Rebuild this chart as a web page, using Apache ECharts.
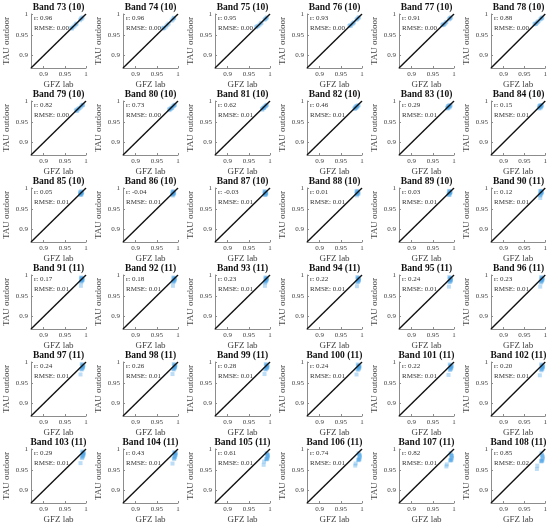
<!DOCTYPE html>
<html><head><meta charset="utf-8">
<script src="https://cdn.jsdelivr.net/npm/echarts@6/dist/echarts.min.js"></script>
<style>html,body{margin:0;padding:0;background:#fff}#c{width:550px;height:528px}</style>
</head><body><div id="c"></div>
<script>
const bands = [73,74,75,76,77,78,79,80,81,82,83,84,85,86,87,88,89,90,91,92,93,94,95,96,97,98,99,100,101,102,103,104,105,106,107,108];
const counts = [10,10,10,10,10,10,10,10,10,10,10,10,10,10,10,10,10,11,11,11,11,11,11,11,11,11,11,11,11,11,11,11,11,11,11,11];
const rValues = ['0.96','0.96','0.95','0.93','0.91','0.88','0.82','0.73','0.62','0.46','0.29','0.15','0.05','-0.04','-0.03','0.01','0.03','0.12','0.17','0.18','0.23','0.22','0.24','0.23','0.24','0.26','0.28','0.24','0.22','0.20','0.29','0.43','0.61','0.74','0.82','0.85'];
const rmseValues = ['0.00','0.00','0.00','0.00','0.00','0.00','0.00','0.00','0.01','0.01','0.01','0.01','0.01','0.01','0.01','0.01','0.01','0.01','0.01','0.01','0.01','0.01','0.01','0.01','0.01','0.01','0.01','0.01','0.01','0.01','0.01','0.01','0.01','0.01','0.01','0.02'];
const tickValues = [0.9, 0.95, 1];
const axisMin = 0.87, axisMax = 1;
const identityLine = [[0.87,0.87],[1,1]];
// GFZ lab (x) per band
const labX = [
 [0.965,0.967,0.970,0.973,0.976,0.978,0.986,0.988,0.990,0.992],
 [0.964,0.966,0.968,0.972,0.975,0.978,0.985,0.988,0.990,0.991],
 [0.967,0.969,0.972,0.975,0.978,0.980,0.987,0.989,0.991,0.993],
 [0.970,0.972,0.974,0.977,0.979,0.981,0.987,0.989,0.991,0.993],
 [0.972,0.974,0.976,0.978,0.980,0.982,0.988,0.990,0.991,0.993],
 [0.974,0.976,0.978,0.980,0.982,0.984,0.988,0.990,0.992,0.993],
 [0.976,0.978,0.979,0.981,0.983,0.985,0.988,0.990,0.992,0.993],
 [0.979,0.980,0.982,0.983,0.985,0.986,0.988,0.990,0.991,0.993],
 [0.981,0.982,0.984,0.985,0.986,0.987,0.989,0.990,0.991,0.993],
 [0.982,0.983,0.984,0.985,0.986,0.987,0.988,0.989,0.990,0.992],
 [0.984,0.985,0.985,0.986,0.987,0.988,0.989,0.990,0.991,0.992],
 [0.985,0.986,0.986,0.987,0.988,0.989,0.989,0.990,0.991,0.992],
 [0.986,0.986,0.987,0.987,0.988,0.988,0.989,0.990,0.990,0.991],
 [0.986,0.987,0.987,0.988,0.988,0.989,0.989,0.990,0.990,0.991],
 [0.987,0.987,0.988,0.988,0.989,0.989,0.990,0.990,0.991,0.991],
 [0.987,0.987,0.988,0.988,0.989,0.989,0.990,0.990,0.991,0.992],
 [0.987,0.988,0.988,0.989,0.989,0.990,0.990,0.991,0.991,0.992],
 [0.987,0.988,0.988,0.989,0.989,0.990,0.990,0.991,0.991,0.992,0.988],
 [0.988,0.988,0.989,0.989,0.990,0.990,0.991,0.991,0.992,0.992,0.988],
 [0.988,0.989,0.989,0.990,0.990,0.991,0.991,0.992,0.992,0.993,0.988],
 [0.988,0.989,0.989,0.990,0.990,0.991,0.991,0.992,0.992,0.993,0.988],
 [0.989,0.989,0.990,0.990,0.991,0.991,0.992,0.992,0.993,0.993,0.988],
 [0.989,0.989,0.990,0.990,0.991,0.991,0.992,0.992,0.993,0.993,0.988],
 [0.989,0.990,0.990,0.991,0.991,0.992,0.992,0.993,0.993,0.994,0.988],
 [0.989,0.990,0.990,0.991,0.991,0.992,0.992,0.993,0.993,0.994,0.987],
 [0.989,0.990,0.990,0.991,0.991,0.992,0.992,0.993,0.993,0.994,0.987],
 [0.989,0.990,0.990,0.991,0.992,0.992,0.993,0.993,0.994,0.994,0.987],
 [0.989,0.990,0.991,0.991,0.992,0.992,0.993,0.993,0.994,0.994,0.987],
 [0.990,0.990,0.991,0.991,0.992,0.992,0.993,0.993,0.994,0.995,0.987],
 [0.990,0.990,0.991,0.992,0.992,0.993,0.993,0.994,0.994,0.995,0.987],
 [0.990,0.991,0.991,0.992,0.992,0.993,0.993,0.994,0.994,0.995,0.987],
 [0.990,0.991,0.991,0.992,0.992,0.993,0.993,0.994,0.994,0.995,0.987],
 [0.991,0.992,0.992,0.993,0.993,0.994,0.994,0.995,0.995,0.985,0.986],
 [0.991,0.992,0.992,0.993,0.993,0.994,0.994,0.995,0.995,0.984,0.985],
 [0.991,0.992,0.992,0.993,0.993,0.994,0.994,0.995,0.995,0.982,0.983],
 [0.990,0.991,0.991,0.992,0.992,0.993,0.993,0.994,0.994,0.980,0.981]
];
// TAU outdoor (y) per band
const tauY = [
 [0.966,0.965,0.969,0.972,0.975,0.977,0.985,0.989,0.989,0.992],
 [0.965,0.967,0.966,0.970,0.974,0.977,0.984,0.987,0.990,0.991],
 [0.968,0.970,0.971,0.974,0.977,0.979,0.986,0.988,0.990,0.992],
 [0.971,0.973,0.972,0.976,0.978,0.980,0.986,0.988,0.991,0.992],
 [0.973,0.975,0.974,0.976,0.979,0.981,0.987,0.989,0.990,0.992],
 [0.975,0.977,0.976,0.979,0.981,0.983,0.987,0.989,0.990,0.992],
 [0.977,0.979,0.976,0.980,0.982,0.983,0.986,0.989,0.990,0.991],
 [0.980,0.978,0.981,0.982,0.984,0.983,0.987,0.988,0.990,0.991],
 [0.981,0.979,0.983,0.984,0.983,0.986,0.987,0.988,0.990,0.991],
 [0.982,0.981,0.985,0.983,0.987,0.984,0.988,0.986,0.989,0.990],
 [0.983,0.986,0.982,0.988,0.984,0.987,0.990,0.985,0.988,0.990],
 [0.984,0.988,0.982,0.986,0.990,0.984,0.988,0.986,0.990,0.989],
 [0.985,0.990,0.983,0.988,0.986,0.992,0.984,0.989,0.987,0.990],
 [0.984,0.991,0.986,0.982,0.989,0.987,0.992,0.985,0.990,0.988],
 [0.985,0.992,0.983,0.989,0.987,0.991,0.984,0.990,0.988,0.986],
 [0.986,0.992,0.982,0.990,0.987,0.993,0.985,0.989,0.991,0.987],
 [0.985,0.993,0.983,0.990,0.987,0.992,0.984,0.990,0.988,0.991],
 [0.984,0.993,0.982,0.991,0.987,0.993,0.985,0.990,0.988,0.991,0.976],
 [0.985,0.994,0.983,0.991,0.988,0.993,0.986,0.990,0.988,0.992,0.974],
 [0.985,0.994,0.983,0.991,0.987,0.993,0.985,0.990,0.988,0.992,0.974],
 [0.984,0.994,0.982,0.991,0.987,0.993,0.985,0.990,0.988,0.992,0.974],
 [0.984,0.995,0.983,0.991,0.987,0.993,0.985,0.990,0.988,0.992,0.973],
 [0.984,0.995,0.983,0.991,0.987,0.993,0.985,0.990,0.988,0.992,0.972],
 [0.984,0.995,0.982,0.991,0.987,0.993,0.985,0.990,0.988,0.992,0.972],
 [0.983,0.995,0.982,0.991,0.986,0.993,0.985,0.990,0.988,0.992,0.970],
 [0.983,0.995,0.982,0.991,0.986,0.993,0.985,0.990,0.988,0.992,0.971],
 [0.983,0.995,0.982,0.991,0.986,0.993,0.985,0.990,0.988,0.992,0.971],
 [0.983,0.994,0.981,0.990,0.986,0.992,0.984,0.989,0.987,0.991,0.970],
 [0.982,0.994,0.981,0.990,0.985,0.992,0.984,0.989,0.987,0.991,0.969],
 [0.982,0.994,0.980,0.990,0.985,0.992,0.983,0.988,0.987,0.991,0.968],
 [0.980,0.994,0.978,0.990,0.984,0.992,0.982,0.988,0.986,0.991,0.966],
 [0.978,0.992,0.976,0.989,0.982,0.991,0.980,0.987,0.985,0.990,0.965],
 [0.976,0.990,0.975,0.988,0.978,0.986,0.977,0.985,0.982,0.962,0.970],
 [0.974,0.990,0.973,0.987,0.976,0.985,0.975,0.984,0.980,0.960,0.965],
 [0.973,0.990,0.972,0.986,0.975,0.984,0.974,0.983,0.979,0.958,0.963],
 [0.971,0.990,0.970,0.986,0.973,0.983,0.972,0.981,0.977,0.952,0.960]
];

const FONT = 'Liberation Serif';
const chart = echarts.init(document.getElementById('c'), null, {renderer:'canvas'});
const grids=[], xAxes=[], yAxes=[], series=[], titles=[];
const W=55, H=54;
bands.forEach((b,i)=>{
  const r=Math.floor(i/6), c=i%6;
  const left=31+92*c, top=14+87*r;
  grids.push({left:left, top:top, width:W, height:H, containLabel:false});
  const axCommon = {
    min:axisMin, max:axisMax, gridIndex:i, splitLine:{show:false},
    axisLine:{show:true, onZero:false, lineStyle:{color:'#8c8c8c', width:1}},
    axisTick:{show:true, inside:true, length:2, customValues:tickValues, lineStyle:{color:'#8c8c8c'}},
    axisLabel:{customValues:tickValues, fontFamily:FONT, fontSize:7, color:'#444', margin:3,
      formatter:v=>String(v)},
    nameLocation:'middle', nameTextStyle:{fontFamily:FONT, fontSize:9, color:'#444'}
  };
  xAxes.push(Object.assign({type:'value', name:'GFZ lab', nameGap:12}, axCommon));
  yAxes.push(Object.assign({type:'value', name:'TAU outdoor', nameGap:20, nameRotate:90}, axCommon));
  series.push({type:'line', xAxisIndex:i, yAxisIndex:i, data:identityLine, symbol:'none',
    lineStyle:{color:'#111', width:1.4}, silent:true, z:3});
  series.push({type:'scatter', xAxisIndex:i, yAxisIndex:i,
    data:labX[i].map((x,k)=>[x,tauY[i][k]]), symbol:'rect', symbolSize:4,
    itemStyle:{color:'rgba(70,160,230,0.45)'}, z:2});
  titles.push({text:'Band '+b+' ('+counts[i]+')', left:left+W/2, top:top-11, textAlign:'center',
    padding:0, textStyle:{fontFamily:FONT, fontSize:9.5, fontWeight:'bold', color:'#111'}});
  titles.push({text:'r: '+rValues[i], left:left+3, top:top+1, padding:0,
    textStyle:{fontFamily:FONT, fontSize:7, fontWeight:'normal', color:'#333'}});
  titles.push({text:'RMSE: '+rmseValues[i], left:left+3, top:top+11, padding:0,
    textStyle:{fontFamily:FONT, fontSize:7, fontWeight:'normal', color:'#333'}});
});
chart.setOption({animation:false, backgroundColor:'#fff', title:titles, grid:grids, xAxis:xAxes, yAxis:yAxes, series:series});
</script></body></html>
